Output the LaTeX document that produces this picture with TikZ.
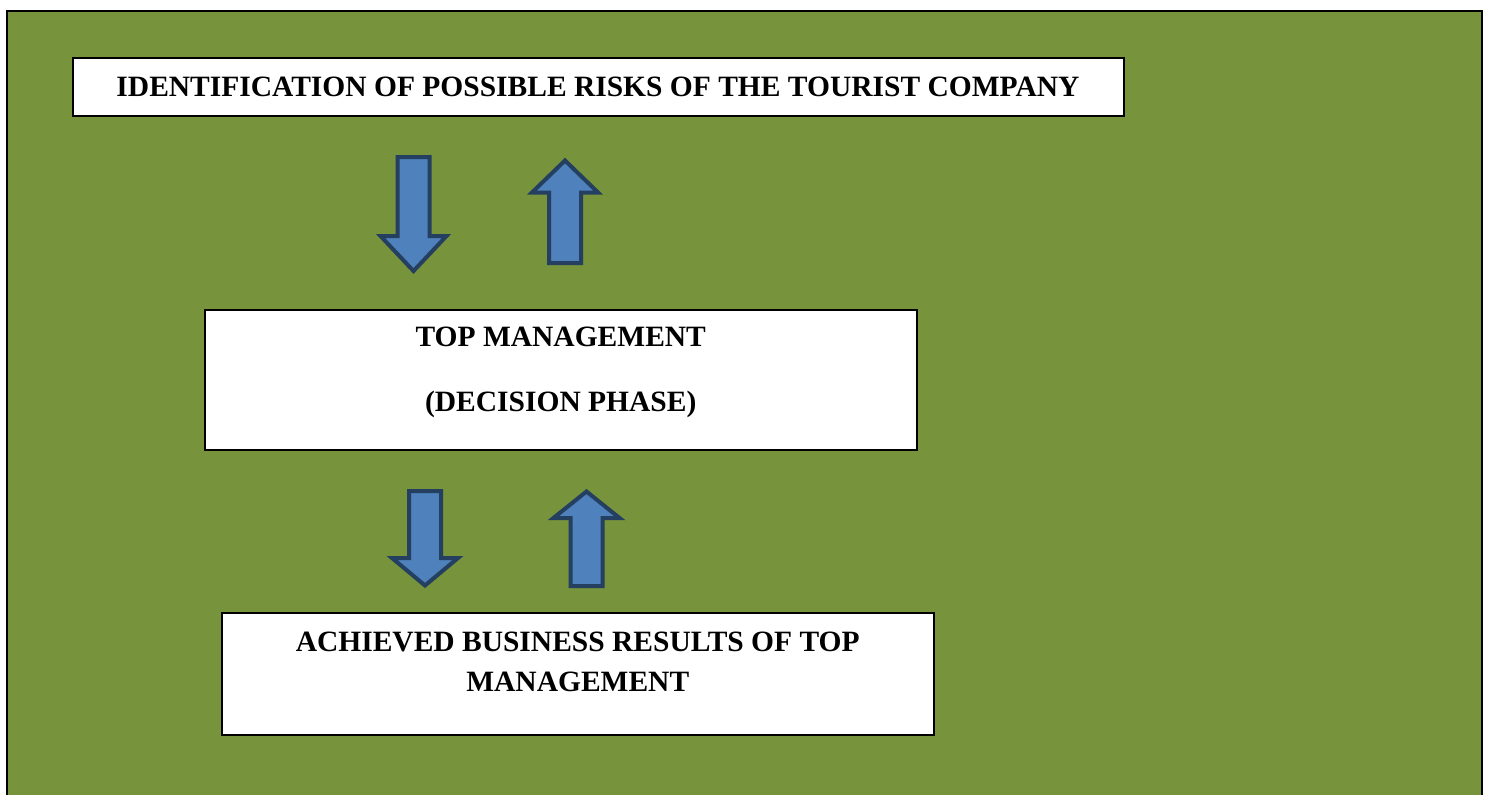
\documentclass[tikz,border=0pt]{standalone}
\usepackage{fontspec}
\setmainfont{Liberation Serif}
\usepackage{tikz}
\usetikzlibrary{positioning,calc}

\definecolor{olivebg}{HTML}{77933C}
\definecolor{arrowfill}{HTML}{4F81BD}
\definecolor{arrowline}{HTML}{243F60}

\tikzset{
  box/.style={draw=black, line width=2pt, fill=white, inner sep=0pt,
              font=\fontsize{29.5}{33}\selectfont\bfseries},
  boxtext/.style={inner sep=0pt, anchor=base,
              font=\fontsize{29.5}{33}\selectfont\bfseries},
  blockarrow/.style={fill=arrowfill, draw=arrowline, line width=4pt, line join=miter}
}

\begin{document}
\begin{tikzpicture}[x=1pt, y=-1pt]

\def\blockarrow#1#2#3#4{
  \filldraw[blockarrow]
    (#1-16,#2) -- (#1+16,#2) -- (#1+16,#3) -- (#1+33,#3) -- (#1,#4)
    -- (#1-33,#3) -- (#1-16,#3) -- cycle;
}

\useasboundingbox (0,0) rectangle (1486,795);
\clip (0,0) rectangle (1486,795);

% green frame
\filldraw[fill=olivebg, draw=black, line width=2pt] (6.5,11) rectangle (1482,810);

\node[box, minimum width=1051pt, minimum height=57.5pt] (risks) at (598,86.75)
  {IDENTIFICATION OF POSSIBLE RISKS OF THE TOURIST COMPANY};

\node[box, minimum width=711.5pt, minimum height=140pt] (mgmt) at (560.75,380) {};
\node[boxtext] (mgmtA) at ($(mgmt.north)+(0,37)$) {TOP MANAGEMENT};
\node[boxtext] (mgmtB) at ($(mgmt.north)+(0,102)$) {(DECISION PHASE)};

\node[box, minimum width=711.5pt, minimum height=122pt] (results) at (577.75,674) {};
\node[boxtext] (resultsA) at ($(results.north)+(0,39)$) {ACHIEVED BUSINESS RESULTS OF TOP};
\node[boxtext] (resultsB) at ($(results.north)+(0,79)$) {MANAGEMENT};

% block arrows: centre x, tail, head base, tip
\blockarrow{413.5}{157}{236}{271}
\blockarrow{565}{263}{192.5}{160.5}
\blockarrow{425}{491}{558}{585.5}
\blockarrow{586.5}{586}{518}{491.5}

\end{tikzpicture}
\end{document}
